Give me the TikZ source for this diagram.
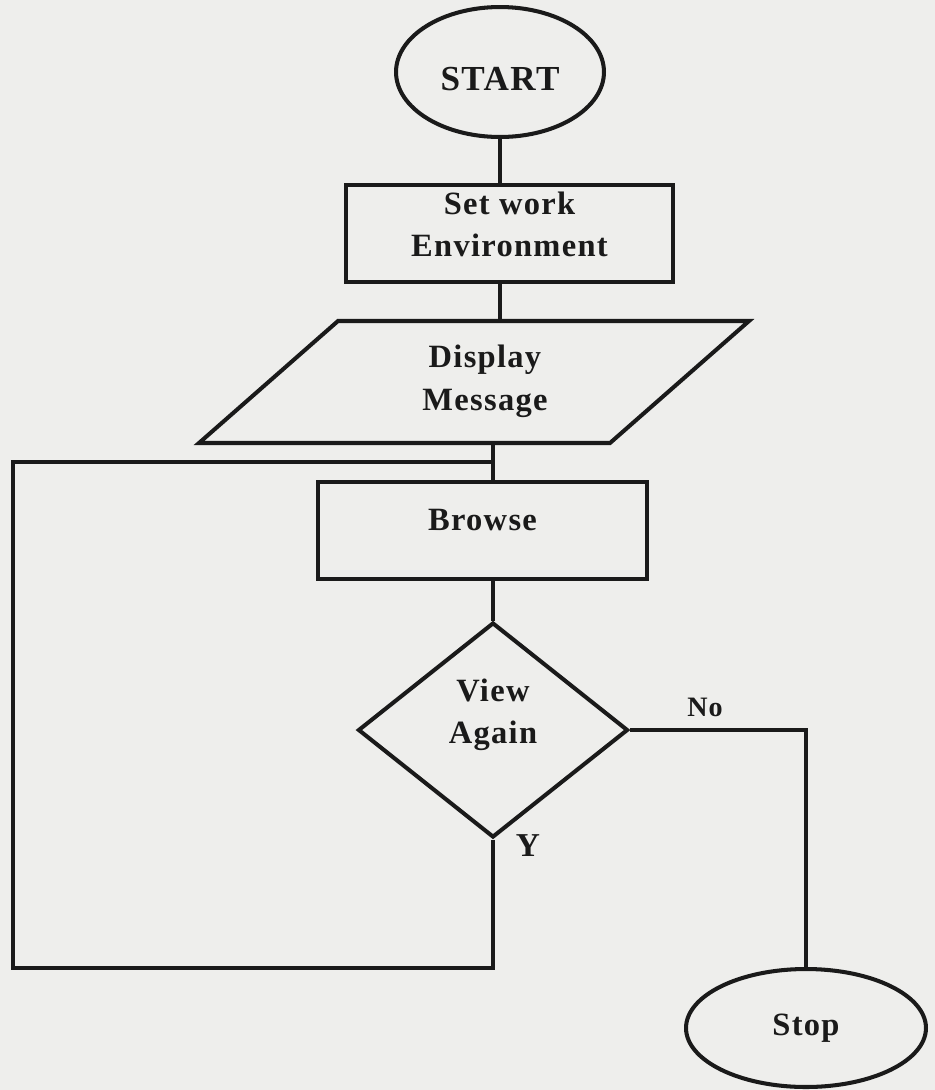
\documentclass[tikz,border=0pt]{standalone}
\usepackage{fontspec}
\setmainfont{Liberation Serif}[LetterSpace=4]
\usetikzlibrary{shapes.geometric}
\definecolor{paper}{RGB}{238,238,236}
\definecolor{ink}{RGB}{26,26,26}

\begin{document}
\begin{tikzpicture}[x=0.02cm,y=-0.02cm,
  every node/.style={text=ink, font=\fontsize{18.5}{24}\selectfont\bfseries, align=center},
  line/.style={draw=ink, line width=2.3pt},
  terminal/.style={line, ellipse, inner sep=0pt},
  process/.style={line, rectangle, inner sep=0pt},
  decision/.style={line, diamond, inner sep=0pt, aspect=1.256},
  tag/.style={inner sep=0pt},
]
\fill[paper] (0,0) rectangle (935,1090);
\useasboundingbox (0,0) rectangle (935,1090);

% start / stop terminals
\node[terminal, minimum width=4.16cm, minimum height=2.6cm,
      font=\fontsize{20}{24}\selectfont\bfseries,
      text height=21.6pt, text depth=0pt] (start) at (500,72) {START};
\node[terminal, minimum width=4.8cm, minimum height=2.36cm] (stop) at (806,1028) {Stop};

% processing boxes
\node[process, minimum width=6.54cm, minimum height=1.94cm,
      text height=36.6pt, text depth=10pt] (setwork) at (509.5,233.5) {Set work\\Environment};
\node[process, minimum width=6.58cm, minimum height=1.94cm,
      text height=12pt, text depth=12pt] (browse) at (482.5,530.5) {Browse};

% output parallelogram
\draw[line] (199,443) -- (338,321) -- (749,321) -- (610,443) -- cycle;
\node[tag, anchor=base] (display) at (485,410) {Display\\Message};
\coordinate (disptop) at (500,321);
\coordinate (dispbot) at (493,443);

% decision
\node[decision, minimum width=5.4cm, minimum height=4.3cm,
      text height=36.6pt, text depth=20.7pt] (dec) at (493,730) {View\\Again};
\node[tag, font=\fontsize{16}{20}\selectfont\bfseries] (no) at (705,707) {No};
\node[tag, font=\fontsize{19}{22}\selectfont\bfseries] (yes) at (528,846) {Y};

% loop-back corners
\coordinate (loopbl) at (13,968);
\coordinate (join) at (493,462);

% connectors
\draw[line] (start.south) -- (start.south |- setwork.north);
\draw[line] (start.south |- setwork.south) -- (disptop);
\draw[line] (dispbot) -- (dispbot |- browse.north);
\draw[line] (dispbot |- browse.south) -- (dec.north);
\draw[line] (dec.east) -| (stop.north);
\draw[line] (dec.south) |- (loopbl) |- (join);
\end{tikzpicture}
\end{document}
